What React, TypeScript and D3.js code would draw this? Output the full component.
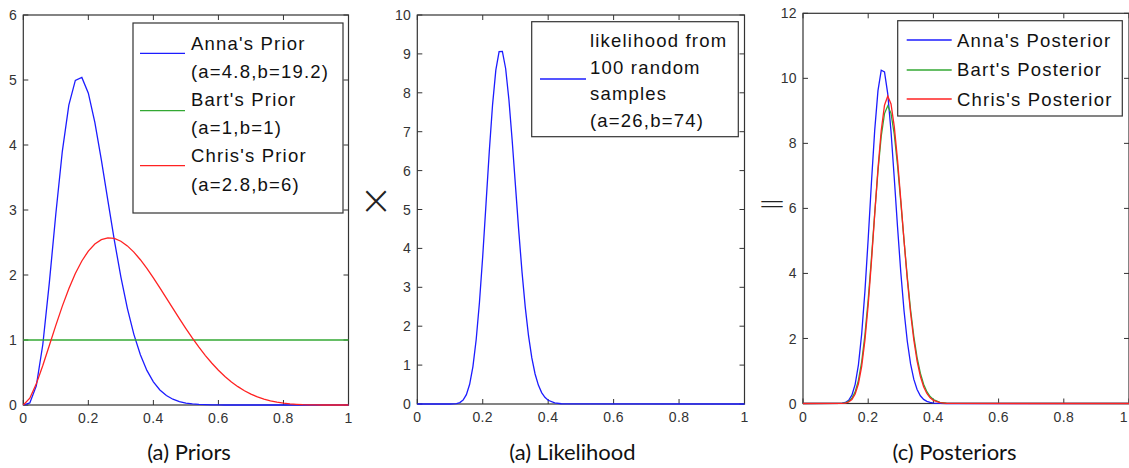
import * as d3 from "d3";

// grid used by the two smooth priors
const priorX = [
  0, 0.02, 0.04, 0.06, 0.08, 0.1, 0.12, 0.14, 0.16, 0.18, 0.2, 0.22, 0.24, 0.26, 0.28, 0.3, 0.32,
  0.34, 0.36, 0.38, 0.4, 0.42, 0.44, 0.46, 0.48, 0.5, 0.52, 0.54, 0.56, 0.58, 0.6, 0.62, 0.64,
  0.66, 0.68, 0.7, 0.72, 0.74, 0.76, 0.78, 0.8, 0.82, 0.84, 0.86, 0.88, 0.9, 0.92, 0.94, 0.96,
  0.98, 1.0,
];
const annaPrior = [
  0, 0.031, 0.293, 0.931, 1.878, 2.939, 3.903, 4.614, 4.994, 5.039, 4.798, 4.348, 3.772, 3.147,
  2.533, 1.971, 1.487, 1.087, 0.772, 0.532, 0.356, 0.231, 0.146, 0.089, 0.053, 0.03, 0.017, 0.009,
  0.005, 0.002, 0.001, 0, 0, 0, 0, 0, 0, 0, 0, 0, 0, 0, 0, 0, 0, 0, 0, 0, 0, 0, 0,
];
const chrisPrior = [
  0, 0.104, 0.325, 0.607, 0.915, 1.225, 1.521, 1.789, 2.022, 2.216, 2.368, 2.477, 2.544, 2.571,
  2.562, 2.52, 2.448, 2.352, 2.235, 2.102, 1.957, 1.803, 1.645, 1.486, 1.328, 1.175, 1.028, 0.89,
  0.76, 0.642, 0.535, 0.439, 0.355, 0.282, 0.219, 0.167, 0.125, 0.091, 0.064, 0.043, 0.028, 0.017,
  0.01, 0.005, 0.003, 0.001, 0, 0, 0, 0, 0,
];
const bartPriorX = [0, 1];
const bartPrior = [1, 1];

const likeX = [
  0, 0.1, 0.11, 0.12, 0.13, 0.14, 0.15, 0.16, 0.17, 0.18, 0.19, 0.2, 0.21, 0.22, 0.23, 0.24, 0.25,
  0.26, 0.27, 0.28, 0.29, 0.3, 0.31, 0.32, 0.33, 0.34, 0.35, 0.36, 0.37, 0.38, 0.39, 0.4, 0.42,
  0.44, 0.46, 1.0,
];
const likelihood = [
  0, 0.0006, 0.003, 0.011, 0.037, 0.1, 0.239, 0.506, 0.961, 1.657, 2.614, 3.805, 5.144, 6.493,
  7.691, 8.584, 9.058, 9.064, 8.625, 7.82, 6.775, 5.614, 4.458, 3.396, 2.485, 1.749, 1.184, 0.772,
  0.485, 0.294, 0.172, 0.097, 0.028, 0.007, 0.001, 0,
];

const postX = [
  0, 0.12, 0.13, 0.14, 0.15, 0.16, 0.17, 0.18, 0.19, 0.2, 0.21, 0.22, 0.23, 0.24, 0.25, 0.26, 0.27,
  0.28, 0.29, 0.3, 0.31, 0.32, 0.33, 0.34, 0.35, 0.36, 0.37, 0.38, 0.39, 0.4, 0.42, 0.44, 0.46, 1.0,
];
const annaPost = [
  0, 0.008, 0.031, 0.097, 0.257, 0.59, 1.19, 2.138, 3.455, 5.069, 6.803, 8.408, 9.622, 10.248,
  10.2, 9.521, 8.363, 6.929, 5.43, 4.033, 2.843, 1.906, 1.217, 0.74, 0.43, 0.238, 0.126, 0.064,
  0.031, 0.014, 0.003, 0, 0, 0,
];
const bartPost = [
  0, 0.006, 0.022, 0.063, 0.16, 0.357, 0.712, 1.284, 2.112, 3.196, 4.48, 5.85, 7.151, 8.219, 8.915,
  9.154, 8.923, 8.277, 7.322, 6.188, 5.005, 3.879, 2.884, 2.06, 1.414, 0.934, 0.594, 0.364, 0.214,
  0.122, 0.035, 0.009, 0.002, 0,
];
const chrisPost = [
  0, 0.004, 0.014, 0.046, 0.123, 0.29, 0.608, 1.143, 1.948, 3.039, 4.368, 5.819, 7.224, 8.397,
  9.174, 9.453, 9.213, 8.516, 7.483, 6.262, 5.0, 3.814, 2.783, 1.946, 1.304, 0.838, 0.518, 0.307,
  0.175, 0.096, 0.026, 0.006, 0.001, 0,
];

const xTicks = [0, 0.2, 0.4, 0.6, 0.8, 1];
const priorYTicks = [0, 1, 2, 3, 4, 5, 6];
const likeYTicks = [0, 1, 2, 3, 4, 5, 6, 7, 8, 9, 10];
const postYTicks = [0, 2, 4, 6, 8, 10, 12];

const W = 1129;
const BLUE = "#1c1cff";
const GREEN = "#33a833";
const RED = "#ff2222";
const AXIS = "#333";
const SANS = "'Liberation Sans', Arial, sans-serif";

type Series = { xs: number[]; ys: number[]; color: string };
type LegendEntry = { lines: string[]; color: string; lineY: number };

type PanelProps = {
  x0: number;
  x1: number;
  y0: number;
  y1: number;
  yTicks: number[];
  series: Series[];
  legendBox: [number, number, number, number];
  legend: LegendEntry[];
  textX: number;
  baseline0: number;
  lineStep: number;
  markX: [number, number];
  caption: string;
  captionX: number;
};

function Panel(p: PanelProps) {
  const yMax = p.yTicks[p.yTicks.length - 1];
  const x = d3.scaleLinear().domain([0, 1]).range([p.x0, p.x1]);
  const y = d3.scaleLinear().domain([0, yMax]).range([p.y1, p.y0]);
  const tk = 5;
  let row = 0;
  return (
    <g>
      <rect x={p.x0} y={p.y0} width={p.x1 - p.x0} height={p.y1 - p.y0} fill="#fff" stroke={AXIS} strokeWidth={1.2} />
      {xTicks.map((t) => {
        // keep the last label inside the page
        const edge = x(t) + 5 > W;
        return (
          <g key={"x" + t}>
            <line x1={x(t)} x2={x(t)} y1={p.y1} y2={p.y1 - tk} stroke={AXIS} />
            <line x1={x(t)} x2={x(t)} y1={p.y0} y2={p.y0 + tk} stroke={AXIS} />
            <text
              x={edge ? W - 1 : x(t)}
              y={p.y1 + 18}
              textAnchor={edge ? "end" : "middle"}
              fontFamily={SANS}
              fontSize={14}
              letterSpacing={0.4}
              fill={AXIS}
            >
              {String(t)}
            </text>
          </g>
        );
      })}
      {p.yTicks.map((t) => (
        <g key={"y" + t}>
          <line x1={p.x0} x2={p.x0 + tk} y1={y(t)} y2={y(t)} stroke={AXIS} />
          <line x1={p.x1} x2={p.x1 - tk} y1={y(t)} y2={y(t)} stroke={AXIS} />
          <text x={p.x0 - 6} y={y(t)} dy="0.36em" textAnchor="end" fontFamily={SANS} fontSize={14} letterSpacing={0.4} fill={AXIS}>
            {String(t)}
          </text>
        </g>
      ))}
      {p.series.map((s, k) => {
        const pts = s.xs.map((v, i) => [v, s.ys[i]] as [number, number]);
        const path = d3
          .line<[number, number]>()
          .x((d) => x(d[0]))
          .y((d) => y(d[1]))(pts);
        return <path key={k} d={path || ""} fill="none" stroke={s.color} strokeWidth={1.3} />;
      })}
      <rect
        x={p.legendBox[0]}
        y={p.legendBox[1]}
        width={p.legendBox[2] - p.legendBox[0]}
        height={p.legendBox[3] - p.legendBox[1]}
        fill="#fff"
        stroke={AXIS}
        strokeWidth={1.2}
      />
      {p.legend.map((e, k) => {
        const start = row;
        row += e.lines.length;
        return (
          <g key={"l" + k}>
            <line x1={p.markX[0]} x2={p.markX[1]} y1={e.lineY} y2={e.lineY} stroke={e.color} strokeWidth={1.3} />
            {e.lines.map((s, j) => (
              <text
                key={j}
                x={p.textX}
                y={p.baseline0 + (start + j) * p.lineStep}
                fontFamily={SANS}
                fontSize={18.5}
                letterSpacing={1.2}
                fill="#111"
              >
                {s}
              </text>
            ))}
          </g>
        );
      })}
      <text x={p.captionX} y={460} textAnchor="middle" fontFamily="Lato, 'Open Sans', sans-serif" fontSize={22} fill="#111">
        {p.caption}
      </text>
    </g>
  );
}

export default function App() {
  return (
    <svg width={W} height={468} style={{ position: "absolute", left: 0, top: 0, background: "#fff" }}>
      <rect width={W} height={468} fill="#fff" />
      <Panel
        x0={23.3}
        x1={348.5}
        y0={15}
        y1={405}
        yTicks={priorYTicks}
        series={[
          { xs: priorX, ys: annaPrior, color: BLUE },
          { xs: bartPriorX, ys: bartPrior, color: GREEN },
          { xs: priorX, ys: chrisPrior, color: RED },
        ]}
        legendBox={[133, 23, 343, 213]}
        legend={[
          { lines: ["Anna's Prior", "(a=4.8,b=19.2)"], color: BLUE, lineY: 53.3 },
          { lines: ["Bart's Prior", "(a=1,b=1)"], color: GREEN, lineY: 110.7 },
          { lines: ["Chris's Prior", "(a=2.8,b=6)"], color: RED, lineY: 165.7 },
        ]}
        textX={191}
        baseline0={50}
        lineStep={28.1}
        markX={[140, 185]}
        caption="(a) Priors"
        captionX={189}
      />
      <Panel
        x0={417.3}
        x1={744.5}
        y0={15}
        y1={404}
        yTicks={likeYTicks}
        series={[{ xs: likeX, ys: likelihood, color: BLUE }]}
        legendBox={[531.7, 21.7, 738.3, 136.7]}
        legend={[
          {
            lines: ["likelihood from", "100 random", "samples", "(a=26,b=74)"],
            color: BLUE,
            lineY: 79,
          },
        ]}
        textX={590}
        baseline0={47.3}
        lineStep={26.5}
        markX={[540, 586]}
        caption="(a) Likelihood"
        captionX={572.5}
      />
      <Panel
        x0={803}
        x1={1129}
        y0={13.3}
        y1={403.5}
        yTicks={postYTicks}
        series={[
          { xs: postX, ys: annaPost, color: BLUE },
          { xs: postX, ys: bartPost, color: GREEN },
          { xs: postX, ys: chrisPost, color: RED },
        ]}
        legendBox={[897.7, 20.7, 1122.3, 116]}
        legend={[
          { lines: ["Anna's Posterior"], color: BLUE, lineY: 40 },
          { lines: ["Bart's Posterior"], color: GREEN, lineY: 70 },
          { lines: ["Chris's Posterior"], color: RED, lineY: 99 },
        ]}
        textX={957}
        baseline0={46.7}
        lineStep={29.5}
        markX={[906.7, 951.7]}
        caption="(c) Posteriors"
        captionX={954.5}
      />
      <text x={376} y={214} textAnchor="middle" fontFamily="'DejaVu Sans', sans-serif" fontWeight={200} fontSize={40} fill="#222">
        ×
      </text>
      <text x={772} y={215} textAnchor="middle" fontFamily="'DejaVu Sans', sans-serif" fontWeight={200} fontSize={34} fill="#222">
        =
      </text>
    </svg>
  );
}
